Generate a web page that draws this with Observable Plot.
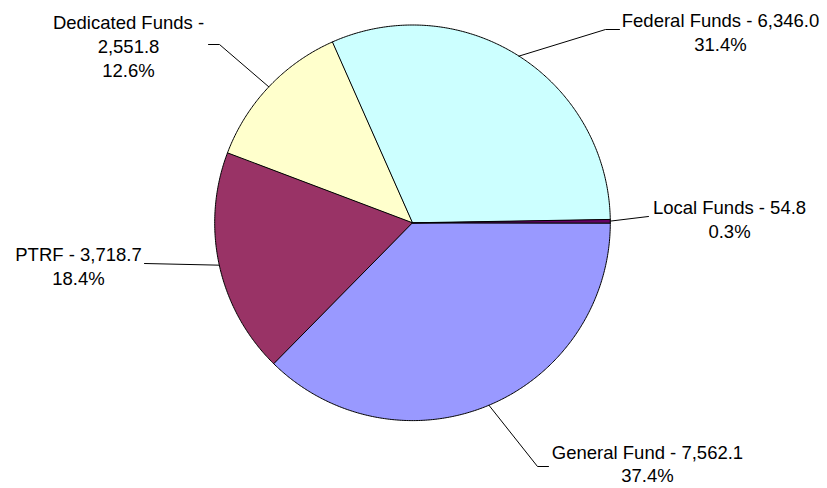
<!DOCTYPE html>
<html><head><meta charset="utf-8">
<script src="https://cdn.jsdelivr.net/npm/d3@7"></script>
<script src="https://cdn.jsdelivr.net/npm/@observablehq/plot@0.6"></script>
<style>
html,body{margin:0;padding:0;background:#fff;}
#chart svg{display:block;}
</style>
</head><body><div id="chart"></div>
<script>
// ---- data ----
const categories = ["General Fund", "PTRF", "Dedicated Funds", "Federal Funds", "Local Funds"];
const values = [7562.1, 3718.7, 2551.8, 6346.0, 54.8];
const colors = ["#9999FF", "#993366", "#FFFFCC", "#CCFFFF", "#660066"];
// label text breaks (where the name/value/percent lines split)
const labelBreaks = ["two", "two", "three", "two", "two"];

// ---- layout (pixels) ----
const W = 827, H = 488;
const cx = 412, cy = 222.3, R = 197.8;
// label block centre and leader end point / elbow length per slice
const labelLayout = [
  {tx: 647, ty: 463, lh: 1.25, ex: 548, ey: 466, hook: -11},
  {tx: 78,  ty: 264.5, lh: 1.3, ex: 144, ey: 263, hook: 0},
  {tx: 128, ty: 44.7,  lh: 1.3, ex: 208, ey: 44,  hook: 11},
  {tx: 720, ty: 30.5,  lh: 1.3, ex: 619, ey: 29,  hook: -14},
  {tx: 729, ty: 218,   lh: 1.3, ex: 648, ey: 216, hook: 0}
];

const total = d3.sum(values);
const fmtVal = d3.format(",.1f");
const fmtPct = d3.format(".1%");

const arcs = d3.pie().sort(null).startAngle(Math.PI / 2).endAngle(Math.PI / 2 + 2 * Math.PI)(values);
const px = a => cx + R * Math.sin(a);
const py = a => cy - R * Math.cos(a);

const slices = arcs.map((a, i) => {
  const pts = [{x: cx, y: cy}];
  const n = Math.max(2, Math.ceil((a.endAngle - a.startAngle) / (Math.PI / 360)));
  for (let k = 0; k <= n; k++) {
    const t = a.startAngle + (a.endAngle - a.startAngle) * k / n;
    pts.push({x: px(t), y: py(t)});
  }
  return {name: categories[i], color: colors[i], pts};
});

const leaders = [];
const labels = [];
arcs.forEach((a, i) => {
  const mid = (a.startAngle + a.endAngle) / 2;
  const L = labelLayout[i];
  const edge = {name: categories[i], x: px(mid), y: py(mid)};
  leaders.push(edge);
  if (L.hook !== 0) leaders.push({name: categories[i], x: L.ex + L.hook, y: L.ey});
  leaders.push({name: categories[i], x: L.ex, y: L.ey});
  const head = categories[i] + " - ";
  const pct = fmtPct(values[i] / total);
  const text = labelBreaks[i] === "three"
    ? head.trim() + "\n" + fmtVal(values[i]) + "\n" + pct
    : head + fmtVal(values[i]) + "\n" + pct;
  labels.push({x: L.tx, y: L.ty, lh: L.lh, text});
});

const chart = Plot.plot({
  width: W, height: H, margin: 0,
  x: {domain: [0, W], range: [0, W], axis: null},
  y: {domain: [0, H], range: [0, H], axis: null},
  style: {background: "#fff", fontFamily: "Arial, 'Liberation Sans', sans-serif"},
  marks: [
    ...slices.map(s => Plot.line(s.pts, {x: "x", y: "y", curve: "linear-closed", fill: s.color, stroke: "#000", strokeWidth: 1, strokeLinejoin: "round"})),
    Plot.line(leaders, {x: "x", y: "y", z: "name", stroke: "#000", strokeWidth: 1}),
    Plot.text(labels.filter(d => d.lh === 1.3), {x: "x", y: "y", text: "text", fontSize: 18.5, lineHeight: 1.3, textAnchor: "middle", fill: "#000"}),
    Plot.text(labels.filter(d => d.lh !== 1.3), {x: "x", y: "y", text: "text", fontSize: 18.5, lineHeight: 1.25, textAnchor: "middle", fill: "#000"})
  ]
});
document.getElementById("chart").appendChild(chart);
</script>
</body></html>
